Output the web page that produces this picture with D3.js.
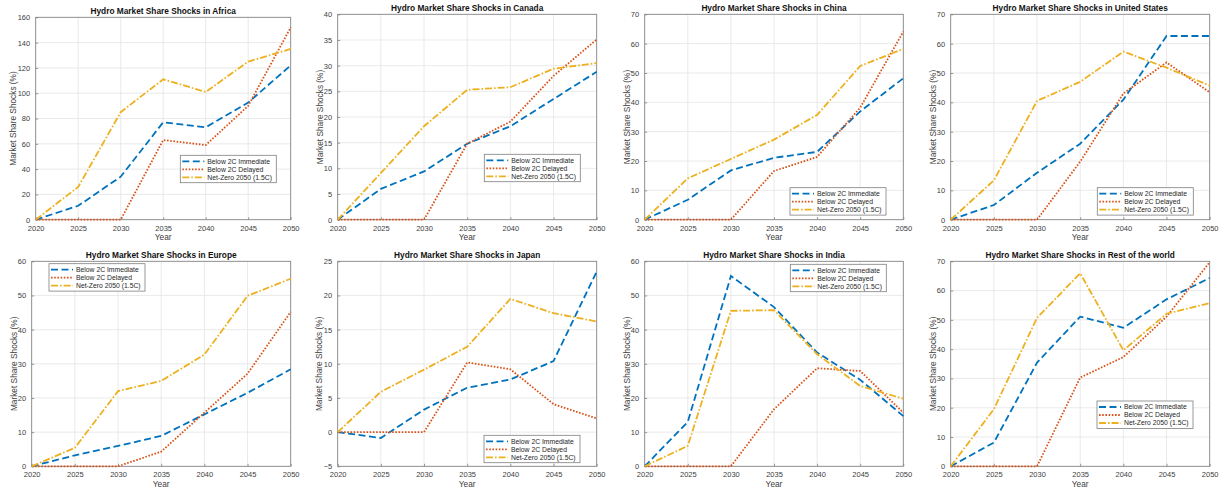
<!DOCTYPE html>
<html>
<head>
<meta charset="utf-8">
<script src="https://cdn.jsdelivr.net/npm/d3@7"></script>
<style>
  body { margin: 0; background: #fff; }
  svg { display: block; }
  text { font-family: "Liberation Sans", Arial, Helvetica, sans-serif; }
</style>
</head>
<body>
<svg id="chart" width="1223" height="492"></svg>
<script>
// ---- data ----
const years = [2020, 2025, 2030, 2035, 2040, 2045, 2050];
const regions = ["Africa", "Canada", "China", "United States", "Europe", "Japan", "India", "Rest of the world"];
const scenarios = ["Below 2C Immediate", "Below 2C Delayed", "Net-Zero 2050 (1.5C)"];

const immediate = [
  [0, 11.0, 34.0, 77.0, 73.0, 92.6, 122.0],
  [0, 6.0, 9.4, 14.8, 18.2, 23.5, 28.8],
  [0, 6.8, 16.8, 21.1, 23.1, 36.9, 48.2],
  [0, 5.0, 16.0, 25.9, 40.9, 62.6, 62.6],
  [0, 3.2, 5.95, 8.9, 15.2, 21.5, 28.4],
  [0, -0.85, 3.3, 6.5, 7.7, 10.4, 23.5],
  [0, 13.0, 55.7, 46.6, 33.3, 25.3, 14.7],
  [0, 8.1, 35.4, 51.1, 47.3, 57.0, 64.3]
];
const delayed = [
  [0, 0, 0, 63.0, 59.0, 90.0, 152.0],
  [0, 0, 0, 14.8, 19.1, 28.0, 35.1],
  [0, 0, 0, 16.6, 21.4, 38.2, 64.1],
  [0, 0, 0, 19.8, 43.0, 53.6, 43.4],
  [0, 0, 0, 4.3, 15.7, 27.1, 45.2],
  [0, 0, 0, 10.2, 9.2, 4.1, 2.0],
  [0, 0, 0, 16.7, 28.7, 27.9, 15.7],
  [0, 0, 0, 30.3, 37.3, 51.1, 69.7]
];
const netZero = [
  [0, 25.9, 85.0, 111.0, 101.0, 125.0, 135.0],
  [0, 9.1, 18.2, 25.3, 25.8, 29.4, 30.5],
  [0, 14.1, 20.7, 27.3, 35.7, 52.4, 58.2],
  [0, 13.4, 40.5, 47.0, 57.3, 51.8, 45.7],
  [0, 5.4, 22.0, 25.0, 32.7, 49.9, 54.9],
  [0, 5.9, 9.15, 12.5, 19.5, 17.4, 16.2],
  [0, 6.0, 45.5, 45.7, 32.8, 23.5, 19.8],
  [0, 19.5, 50.7, 65.9, 39.6, 52.1, 55.7]
];

// y-axis range and tick step of each region
const yMin = [0, 0, 0, 0, 0, -5, 0, 0];
const yMax = [160, 40, 70, 70, 60, 25, 60, 70];
const yStep = [20, 5, 10, 10, 10, 5, 10, 10];

// ---- layout (axes boxes and legend corners, in px) ----
const panels = [
  { l: 35.7,  r: 290.7,  t: 17.3,  b: 219.7, lx: 180.3,  ly: 155.3 },
  { l: 337.7, r: 596.7,  t: 14.3,  b: 219.7, lx: 484.3,  ly: 154.3 },
  { l: 644.7, r: 903.3,  t: 14.3,  b: 219.7, lx: 790.0,  ly: 187.7 },
  { l: 950.7, r: 1209.7, t: 14.3,  b: 219.7, lx: 1097.3, ly: 187.7 },
  { l: 31.7,  r: 290.7,  t: 261.3, b: 466.3, lx: 49.0,   ly: 263.7 },
  { l: 337.7, r: 596.7,  t: 261.3, b: 466.3, lx: 484.0,  ly: 435.3 },
  { l: 644.7, r: 903.3,  t: 261.3, b: 466.3, lx: 790.3,  ly: 264.3 },
  { l: 950.7, r: 1209.7, t: 261.3, b: 466.3, lx: 1097.0, ly: 401.0 }
];

const styles = [
  { color: "#0072BD", dash: "7,3.5" },
  { color: "#D95319", dash: "1.6,1.6" },
  { color: "#EDB120", dash: "7,2,1.6,2" }
];
const lineWidth = 1.8;

const axisColor = "#7f7f7f";
const gridColor = "#e4e4e4";
const textColor = "#404040";

const svg = d3.select("#chart");

regions.forEach((region, i) => {
  const p = panels[i];
  const x = d3.scaleLinear().domain([years[0], years[years.length - 1]]).range([p.l, p.r]);
  const y = d3.scaleLinear().domain([yMin[i], yMax[i]]).range([p.b, p.t]);
  const yTicks = d3.range(yMin[i], yMax[i] + yStep[i] / 2, yStep[i]);
  const g = svg.append("g");

  // grid
  g.append("g").selectAll("line").data(years).join("line")
    .attr("x1", d => x(d)).attr("x2", d => x(d))
    .attr("y1", p.t).attr("y2", p.b)
    .attr("stroke", gridColor).attr("stroke-width", 0.8);
  g.append("g").selectAll("line").data(yTicks).join("line")
    .attr("x1", p.l).attr("x2", p.r)
    .attr("y1", d => y(d)).attr("y2", d => y(d))
    .attr("stroke", gridColor).attr("stroke-width", 0.8);

  // axes (ticks pointing inward, labels outside)
  const xAxis = d3.axisBottom(x).tickValues(years).tickFormat(d3.format("d"))
    .tickSizeInner(-2.5).tickSizeOuter(0).tickPadding(5.5);
  const yAxis = d3.axisLeft(y).tickValues(yTicks).tickFormat(d3.format("d"))
    .tickSizeInner(-2.5).tickSizeOuter(0).tickPadding(5.5);

  const gx = g.append("g").attr("transform", `translate(0,${p.b})`).call(xAxis);
  const gy = g.append("g").attr("transform", `translate(${p.l},0)`).call(yAxis);
  [gx, gy].forEach(a => {
    a.select(".domain").remove();
    a.selectAll(".tick line").attr("stroke", axisColor).attr("stroke-width", 0.8);
    a.selectAll(".tick text").attr("fill", textColor).style("font-size", "7.5px");
  });
  gx.selectAll(".tick text").attr("dy", "0.72em");

  // box
  g.append("rect")
    .attr("x", p.l).attr("y", p.t)
    .attr("width", p.r - p.l).attr("height", p.b - p.t)
    .attr("fill", "none").attr("stroke", axisColor).attr("stroke-width", 0.8);

  // series
  const series = [immediate[i], delayed[i], netZero[i]];
  const line = d3.line().x((d, k) => x(years[k])).y(d => y(d));
  series.forEach((vals, s) => {
    g.append("path")
      .datum(vals)
      .attr("d", line)
      .attr("fill", "none")
      .attr("stroke", styles[s].color)
      .attr("stroke-width", lineWidth)
      .attr("stroke-dasharray", styles[s].dash);
  });

  // title
  g.append("text")
    .attr("x", (p.l + p.r) / 2).attr("y", p.t - 3.2)
    .attr("text-anchor", "middle")
    .attr("font-weight", "bold")
    .attr("fill", "#111")
    .style("font-size", "8.3px")
    .text(`Hydro Market Share Shocks in ${region}`);

  // x label
  g.append("text")
    .attr("x", (p.l + p.r) / 2).attr("y", p.b + 20.7)
    .attr("text-anchor", "middle")
    .attr("fill", textColor)
    .style("font-size", "8.3px")
    .text("Year");

  // y label, placed left of the widest tick label
  const tickW = d3.max(gy.selectAll(".tick text").nodes(), n => n.getComputedTextLength());
  const ylx = p.l - 5.5 - tickW - 1.2;
  g.append("text")
    .attr("transform", `translate(${ylx},${(p.t + p.b) / 2}) rotate(-90)`)
    .attr("text-anchor", "middle")
    .attr("fill", textColor)
    .style("font-size", "8.3px")
    .text("Market Share Shocks (%)");

  // legend
  const lg = g.append("g").attr("transform", `translate(${p.lx},${p.ly})`);
  lg.append("rect")
    .attr("width", 96).attr("height", 27.4)
    .attr("fill", "#fff").attr("stroke", axisColor).attr("stroke-width", 0.8);
  scenarios.forEach((name, s) => {
    const cy = 6 + s * 8;
    lg.append("line")
      .attr("x1", 2).attr("x2", 24).attr("y1", cy).attr("y2", cy)
      .attr("stroke", styles[s].color).attr("stroke-width", lineWidth)
      .attr("stroke-dasharray", styles[s].dash);
    lg.append("text")
      .attr("x", 27).attr("y", cy + 2.4)
      .attr("fill", "#262626")
      .style("font-size", "6.8px")
      .text(name);
  });
});
</script>
</body>
</html>
